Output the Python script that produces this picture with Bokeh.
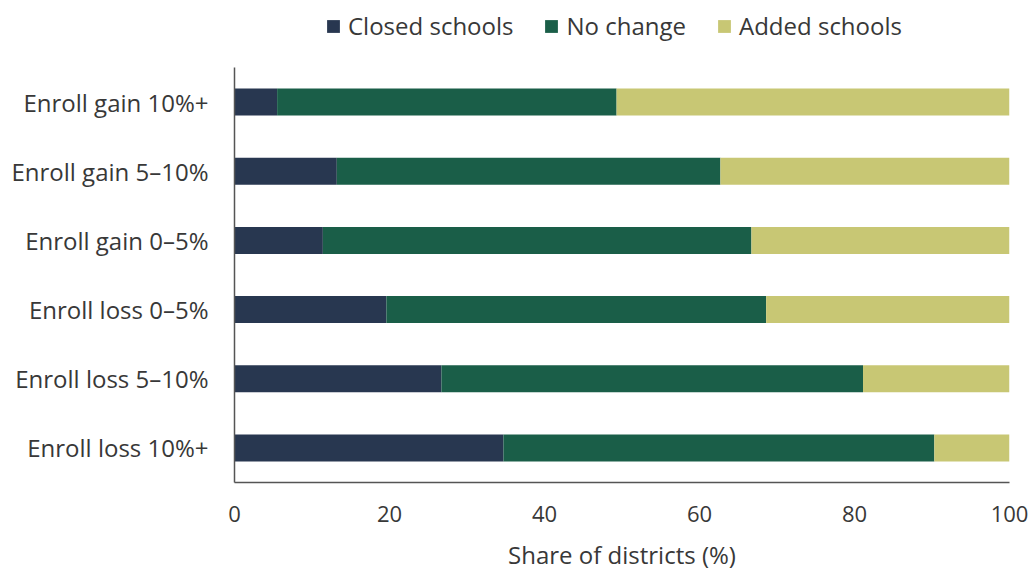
from bokeh.plotting import figure
from bokeh.layouts import column
from bokeh.models import ColumnDataSource, Legend, LegendItem, FactorRange, Range1d, FixedTicker
from bokeh.embed import file_html
from bokeh.resources import INLINE

categories = ["Enroll gain 10%+", "Enroll gain 5–10%", "Enroll gain 0–5%",
              "Enroll loss 0–5%", "Enroll loss 5–10%", "Enroll loss 10%+"]
closed = [5.5, 13.2, 11.4, 19.6, 26.7, 34.7]
no_change = [43.8, 49.5, 55.3, 49.0, 54.4, 55.6]
added = [50.7, 37.3, 33.3, 31.4, 18.9, 9.7]
series = ["closed", "no_change", "added"]
series_labels = ["Closed schools", "No change", "Added schools"]
colors = ["#283750", "#1a5e48", "#c8c774"]
x_ticks = [0, 20, 40, 60, 80, 100]

FONT = "Open Sans"
TXT = "#383838"
W = 1031
LEG_H = 55
H = 575 - LEG_H

source = ColumnDataSource(dict(cat=categories, closed=closed, no_change=no_change, added=added))

# ---- main chart ----
p = figure(width=W, height=H, output_backend="svg", toolbar_location=None,
           y_range=FactorRange(factors=list(reversed(categories)), range_padding=0),
           x_range=Range1d(0, 100),
           min_border_left=234, min_border_right=22, min_border_top=67 - LEG_H, min_border_bottom=93)

renderers = p.hbar_stack(series, y="cat", height=0.39, color=colors, source=source, line_color=None)

p.outline_line_color = None
p.grid.grid_line_color = None

p.xaxis.ticker = FixedTicker(ticks=x_ticks)
p.xaxis.axis_label = "Share of districts (%)"
for ax in [p.xaxis[0], p.yaxis[0]]:
    ax.axis_line_color = "#555555"
    ax.axis_line_width = 1.5
    ax.major_tick_line_color = None
    ax.minor_tick_line_color = None
    ax.major_tick_out = 0
    ax.major_tick_in = 0
    ax.major_label_text_font = FONT
    ax.major_label_text_color = TXT
p.xaxis.major_label_text_font_size = "22px"
p.yaxis.major_label_text_font_size = "24px"
p.xaxis.major_label_standoff = 23
p.yaxis.major_label_standoff = 26
p.xaxis.axis_label_text_font = FONT
p.xaxis.axis_label_text_font_size = "24px"
p.xaxis.axis_label_text_font_style = "normal"
p.xaxis.axis_label_text_color = TXT
p.xaxis.axis_label_standoff = 13

# ---- legend strip (above the chart, same series styles) ----
leg = figure(width=W, height=LEG_H, output_backend="svg", toolbar_location=None,
             x_axis_type=None, y_axis_type=None, x_range=Range1d(0, 1), y_range=Range1d(0, 1),
             min_border=0)
leg.outline_line_color = None
leg.grid.grid_line_color = None
# keyed to the same series; the single row lies outside the strip's range, so only the key shows
leg_src = ColumnDataSource(dict(y=[-10], right=[-10]))
leg_renderers = [leg.hbar(y="y", right="right", height=0.4, color=c, source=leg_src, line_color=None)
                 for c in colors]
legend = Legend(items=[LegendItem(label=l, renderers=[r]) for l, r in zip(series_labels, leg_renderers)],
                orientation="horizontal", location=(91, 13),
                border_line_color=None, background_fill_alpha=0,
                padding=0, margin=0, spacing=30, label_standoff=7,
                glyph_width=16, glyph_height=16, label_height=27,
                label_text_font=FONT, label_text_font_size="24px", label_text_color=TXT)
leg.add_layout(legend, "center")

open("out.html", "w").write(file_html(column(leg, p, spacing=0), INLINE))
